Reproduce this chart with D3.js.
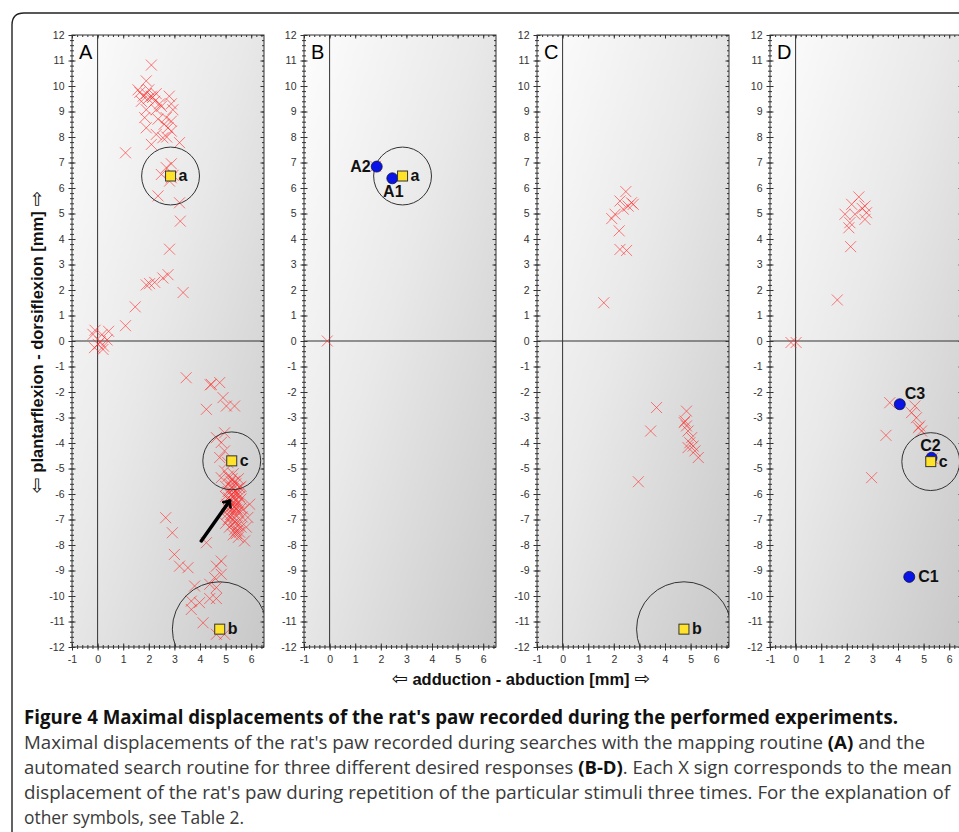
<!DOCTYPE html>
<html>
<head>
<meta charset="utf-8">
<script src="https://cdn.jsdelivr.net/npm/d3@7"></script>
<style>
  html, body { margin: 0; padding: 0; background: #fff; }
  svg { display: block; }
</style>
</head>
<body>
<svg id="chart" width="959" height="832"></svg>
<script>
// ---------------- DATA ----------------
const panelLetters = ["A", "B", "C", "D"];
const xTickLabels = [-1, 0, 1, 2, 3, 4, 5, 6];
const yTickLabels = [-12, -11, -10, -9, -8, -7, -6, -5, -4, -3, -2, -1, 0, 1, 2, 3, 4, 5, 6, 7, 8, 9, 10, 11, 12];

// X signs: [abduction, dorsiflexion] in mm
const crossesA = [
  [2.1, 10.82], [1.9, 10.2], [1.58, 9.85], [1.78, 9.6], [1.9, 9.7], [2.1, 9.6], [2.29, 9.7], [1.71, 9.4],
  [1.97, 9.5], [2.23, 9.4], [2.42, 9.3], [2.8, 9.6], [2.88, 9.3], [2.94, 9.07], [2.29, 9.07], [2.49, 9.2],
  [1.9, 9.07], [1.84, 8.76], [2.36, 8.7], [2.68, 8.76], [2.88, 8.62], [2.75, 8.36], [1.9, 8.36], [2.29, 8.1],
  [2.55, 7.97], [2.88, 8.23], [3.2, 7.78], [2.1, 7.71], [1.09, 7.38], [1.65, 9.75], [2.0, 9.85], [2.15, 9.55],
  [2.6, 8.5], [2.7, 8.0],
  [2.88, 6.95], [2.68, 6.8], [2.49, 6.53], [2.88, 6.4], [2.81, 6.27], [2.95, 6.5], [2.36, 5.69], [3.2, 5.42],
  [3.23, 4.7], [2.81, 3.6], [2.75, 2.6], [2.55, 2.47], [2.23, 2.3], [2.03, 2.25], [1.9, 2.2], [3.34, 1.9],
  [1.47, 1.34], [1.09, 0.6], [-0.1, 0.42], [0.17, 0.25], [0.43, 0.38], [0.37, 0.04], [0.1, -0.03], [0.23, -0.2],
  [-0.18, 0.26], [0.02, -0.13], [0.21, -0.33], [-0.12, -0.26],
  [3.46, -1.44], [4.44, -1.7], [4.4, -1.72], [4.77, -1.63], [4.9, -2.22], [5.35, -2.55], [5.03, -2.55], [4.25, -2.68],
  [4.64, -3.79], [4.96, -3.6], [4.83, -3.98], [4.96, -4.31], [4.77, -4.57], [5.09, -4.77], [4.96, -5.1], [4.83, -5.36],
  [5.94, -6.4], [5.87, -6.92], [5.81, -7.3], [5.74, -7.84], [5.42, -7.45], [5.55, -5.75],
  [5.1, -5.3], [5.3, -5.2], [5.5, -5.4], [5.2, -5.5], [5.4, -5.6], [5.0, -5.7], [5.3, -5.8], [5.6, -5.7],
  [5.1, -5.9], [5.25, -6.0], [5.45, -5.95], [5.0, -6.1], [5.35, -6.15], [5.55, -6.1], [5.15, -6.25], [5.3, -6.3],
  [5.5, -6.35], [5.05, -6.4], [5.2, -6.5], [5.4, -6.45], [5.6, -6.55], [5.1, -6.6], [5.3, -6.7], [5.5, -6.7],
  [5.2, -6.8], [5.4, -6.85], [5.65, -6.9], [5.1, -7.0], [5.3, -7.0], [5.5, -7.1], [5.25, -7.2], [5.45, -7.25],
  [5.35, -7.4], [5.55, -7.5], [5.3, -7.6], [5.5, -7.7], [5.2, -6.05], [5.4, -6.25], [5.25, -6.6], [5.15, -5.6],
  [5.45, -5.8], [5.05, -6.8], [5.35, -5.5], [5.6, -6.2], [5.7, -6.6], [5.15, -7.3], [5.4, -6.55], [5.3, -5.95],
  [5.0, -7.15], [5.6, -7.3], [5.22, -5.75], [5.38, -6.0], [5.28, -6.45], [5.45, -6.6], [5.18, -6.9], [5.36, -7.1],
  [5.25, -5.4], [5.5, -6.0], [5.12, -6.15], [5.42, -7.55],
  [2.66, -6.93], [2.92, -7.52], [3.0, -8.37], [3.2, -8.83], [3.53, -8.89], [4.25, -7.91], [4.83, -8.63], [4.64, -8.83],
  [4.57, -9.28], [4.83, -9.15], [3.79, -9.61], [4.38, -9.54], [4.64, -9.67], [4.38, -10.1], [4.64, -10.1], [3.66, -10.2],
  [3.98, -10.26], [3.66, -10.53], [4.12, -11.05], [4.64, -11.5], [4.96, -11.5]
];
const crossesB = [[-0.09, 0.0], [1.8, 6.85]];
const crossesC = [
  [2.47, 5.86], [2.24, 5.49], [2.69, 5.42], [2.56, 5.29], [2.76, 5.36], [2.37, 5.17], [2.05, 4.97], [1.92, 4.8],
  [2.21, 4.32], [2.24, 3.59], [2.5, 3.55], [1.61, 1.5],
  [3.67, -2.61], [4.84, -2.75], [4.78, -3.14], [4.84, -3.33], [4.9, -3.53], [5.04, -3.79], [4.97, -3.99], [5.1, -4.12],
  [4.9, -4.18], [5.17, -4.31], [5.3, -4.57], [4.75, -3.2], [3.44, -3.53], [2.96, -5.52]
];
const crossesD = [
  [2.47, 5.65], [2.19, 5.36], [1.93, 4.97], [2.32, 4.97], [2.12, 4.64], [2.08, 4.44], [2.71, 5.29], [2.77, 5.03],
  [2.71, 4.77], [2.6, 5.2], [2.15, 3.7], [1.63, 1.61], [-0.18, -0.06], [0.02, -0.06],
  [3.68, -2.42], [4.66, -2.55], [4.53, -2.81], [4.72, -3.01], [4.85, -3.33], [4.92, -3.53], [4.8, -3.4],
  [3.53, -3.7], [2.97, -5.36], [5.35, -4.6]
];

// Desired responses (yellow squares) with their tolerance circle radius in mm
const targetsA = [
  { label: "a", x: 2.85, y: 6.47, r: 1.13 },
  { label: "c", x: 5.24, y: -4.7, r: 1.13 },
  { label: "b", x: 4.77, y: -11.3, r: 1.85 }
];
const targetsB = [{ label: "a", x: 2.85, y: 6.47, r: 1.13 }];
const targetsC = [{ label: "b", x: 4.74, y: -11.3, r: 1.85 }];
const targetsD = [{ label: "c", x: 5.28, y: -4.73, r: 1.13 }];

// Found responses (blue dots)
const foundB = [{ label: "A2", x: 1.84, y: 6.84 }, { label: "A1", x: 2.45, y: 6.38 }];
const foundD = [{ label: "C3", x: 4.07, y: -2.48 }, { label: "C2", x: 5.31, y: -4.58 }, { label: "C1", x: 4.44, y: -9.25 }];

// Arrow in panel A: [from, to]
const arrowA = [[4.05, -7.84], [5.16, -6.27]];

const panels = [
  { crosses: crossesA, targets: targetsA, found: [], arrow: arrowA },
  { crosses: crossesB, targets: targetsB, found: foundB, arrow: null },
  { crosses: crossesC, targets: targetsC, found: [], arrow: null },
  { crosses: crossesD, targets: targetsD, found: foundD, arrow: null }
];

// label placement (style) for found dots
const foundLabelStyle = {
  A2: { dx: -6, dy: 5, anchor: "end" },
  A1: { dx: 1, dy: 19, anchor: "middle" },
  C3: { dx: 5, dy: -5, anchor: "start" },
  C2: { dx: -1, dy: -7, anchor: "middle" },
  C1: { dx: 9, dy: 5, anchor: "start" }
};

// ---------------- DRAW ----------------
const svg = d3.select("#chart");
const W = 959, H = 832;
const fontAx = "'Liberation Sans', Arial, sans-serif";

svg.append("path")
  .attr("d", `M12,${H + 5} L12,25 Q12,13 24,13 L${W + 5},13`)
  .attr("fill", "none").attr("stroke", "#222").attr("stroke-width", 1.4);

const defs = svg.append("defs");
const grad = defs.append("linearGradient").attr("id", "bg")
  .attr("x1", "0").attr("y1", "0").attr("x2", "1").attr("y2", "1");
grad.append("stop").attr("offset", "0%").attr("stop-color", "#fdfdfd");
grad.append("stop").attr("offset", "45%").attr("stop-color", "#e9e9e9");
grad.append("stop").attr("offset", "100%").attr("stop-color", "#c8c8c8");

const mk = defs.append("marker").attr("id", "arrowHead")
  .attr("viewBox", "-6 -6 12 12").attr("refX", 0).attr("refY", 0)
  .attr("markerWidth", 12).attr("markerHeight", 12).attr("markerUnits", "userSpaceOnUse")
  .attr("orient", "auto");
mk.append("path").attr("d", "M-5,-4.5 L0,0 L-5,4.5").attr("fill", "none")
  .attr("stroke", "#000").attr("stroke-width", 2.6).attr("stroke-linecap", "round").attr("stroke-linejoin", "round");

const panelLeft = [72, 304, 537, 770];
const plotTop = 35, plotBottom = 647, pw = 192;
const minorVals = d3.range(-12, 12.001, 0.2).map(v => +v.toFixed(2));
const minorX = d3.range(-1, 6.501, 0.2).map(v => +v.toFixed(2));
const fmt = d => String(d);

panels.forEach((p, i) => {
  const x0 = panelLeft[i];
  const x = d3.scaleLinear().domain([-1, 6.5]).range([x0, x0 + pw]);
  const y = d3.scaleLinear().domain([-12, 12]).range([plotBottom, plotTop]);
  const g = svg.append("g");

  const clipId = "clip" + i;
  defs.append("clipPath").attr("id", clipId).append("rect")
    .attr("x", x0).attr("y", plotTop).attr("width", pw).attr("height", plotBottom - plotTop);

  g.append("rect").attr("x", x0).attr("y", plotTop).attr("width", pw).attr("height", plotBottom - plotTop)
    .attr("fill", "url(#bg)");

  g.append("line").attr("x1", x(0)).attr("x2", x(0)).attr("y1", plotTop).attr("y2", plotBottom)
    .attr("stroke", "#333").attr("stroke-width", 1);
  g.append("line").attr("x1", x0).attr("x2", x0 + pw).attr("y1", y(0)).attr("y2", y(0))
    .attr("stroke", "#333").attr("stroke-width", 1);

  const styleAxis = sel => {
    sel.selectAll("path").remove();
    sel.selectAll("line").attr("stroke", "#333");
    sel.selectAll("text").attr("font-family", fontAx).attr("font-size", 10.5).attr("fill", "#333");
  };
  g.append("g").attr("transform", `translate(${x0},0)`)
    .call(d3.axisLeft(y).tickValues(yTickLabels).tickSize(3.5).tickPadding(4).tickFormat(fmt))
    .call(styleAxis);
  g.append("g").attr("transform", `translate(${x0},0)`)
    .call(d3.axisRight(y).tickValues(yTickLabels).tickSize(3.5).tickFormat(""))
    .call(styleAxis);
  g.append("g").attr("transform", `translate(${x0},0)`)
    .call(d3.axisLeft(y).tickValues(minorVals).tickSize(2).tickFormat(""))
    .call(styleAxis);
  g.append("g").attr("transform", `translate(${x0},0)`)
    .call(d3.axisRight(y).tickValues(minorVals).tickSize(2).tickFormat(""))
    .call(styleAxis);
  g.append("g").attr("transform", `translate(${x0 + pw},0)`)
    .call(d3.axisLeft(y).tickValues(yTickLabels).tickSize(3.5).tickFormat(""))
    .call(styleAxis);
  g.append("g").attr("transform", `translate(${x0 + pw},0)`)
    .call(d3.axisLeft(y).tickValues(minorVals).tickSize(2).tickFormat(""))
    .call(styleAxis);
  g.append("g").attr("transform", `translate(0,${plotBottom})`)
    .call(d3.axisBottom(x).tickValues(xTickLabels).tickSize(3.5).tickPadding(5).tickFormat(fmt))
    .call(styleAxis);
  g.append("g").attr("transform", `translate(0,${plotBottom})`)
    .call(d3.axisTop(x).tickValues(xTickLabels).tickSize(3.5).tickFormat(""))
    .call(styleAxis);
  g.append("g").attr("transform", `translate(0,${plotBottom})`)
    .call(d3.axisBottom(x).tickValues(minorX).tickSize(2).tickFormat(""))
    .call(styleAxis);
  g.append("g").attr("transform", `translate(0,${plotBottom})`)
    .call(d3.axisTop(x).tickValues(minorX).tickSize(2).tickFormat(""))
    .call(styleAxis);
  g.append("g").attr("transform", `translate(0,${plotTop})`)
    .call(d3.axisBottom(x).tickValues(xTickLabels).tickSize(3.5).tickFormat(""))
    .call(styleAxis);
  g.append("g").attr("transform", `translate(0,${plotTop})`)
    .call(d3.axisBottom(x).tickValues(minorX).tickSize(2).tickFormat(""))
    .call(styleAxis);

  g.append("rect").attr("x", x0).attr("y", plotTop).attr("width", pw).attr("height", plotBottom - plotTop)
    .attr("fill", "none").attr("stroke", "#333").attr("stroke-width", 1);

  const plot = g.append("g").attr("clip-path", `url(#${clipId})`);

  const s = 5.5;
  plot.selectAll("path.cross").data(p.crosses).join("path").attr("class", "cross")
    .attr("d", d => {
      const cx = x(d[0]), cy = y(d[1]);
      return `M${cx - s},${cy - s}L${cx + s},${cy + s}M${cx - s},${cy + s}L${cx + s},${cy - s}`;
    })
    .attr("stroke", "#ff2a2a").attr("stroke-opacity", 0.62).attr("stroke-width", 1).attr("fill", "none");

  const unit = x(1) - x(0);
  plot.selectAll("circle.tol").data(p.targets).join("circle").attr("class", "tol")
    .attr("cx", d => x(d.x)).attr("cy", d => y(d.y)).attr("r", d => d.r * unit)
    .attr("fill", "none").attr("stroke", "#333").attr("stroke-width", 1);

  plot.selectAll("circle.found").data(p.found).join("circle").attr("class", "found")
    .attr("cx", d => x(d.x)).attr("cy", d => y(d.y)).attr("r", 5.5)
    .attr("fill", "#0a14e6").attr("stroke", "#101040").attr("stroke-width", 0.8);

  plot.selectAll("rect.tg").data(p.targets).join("rect").attr("class", "tg")
    .attr("x", d => x(d.x) - 5).attr("y", d => y(d.y) - 5).attr("width", 10).attr("height", 10)
    .attr("fill", "#ffe22a").attr("stroke", "#333").attr("stroke-width", 1);

  plot.selectAll("text.tg").data(p.targets).join("text").attr("class", "tg")
    .attr("x", d => x(d.x) + 8).attr("y", d => y(d.y) + 5)
    .attr("font-family", fontAx).attr("font-weight", "bold").attr("font-size", 16).attr("fill", "#111")
    .text(d => d.label);

  g.selectAll("text.found").data(p.found).join("text").attr("class", "found")
    .attr("x", d => x(d.x) + foundLabelStyle[d.label].dx)
    .attr("y", d => y(d.y) + foundLabelStyle[d.label].dy)
    .attr("text-anchor", d => foundLabelStyle[d.label].anchor)
    .attr("font-family", fontAx).attr("font-weight", "bold").attr("font-size", 16).attr("fill", "#111")
    .text(d => d.label);

  if (p.arrow) {
    plot.append("line")
      .attr("x1", x(p.arrow[0][0])).attr("y1", y(p.arrow[0][1]))
      .attr("x2", x(p.arrow[1][0])).attr("y2", y(p.arrow[1][1]))
      .attr("stroke", "#000").attr("stroke-width", 3.5).attr("stroke-linecap", "round")
      .attr("marker-end", "url(#arrowHead)");
  }

  g.append("text").attr("x", x0 + 7).attr("y", plotTop + 24)
    .attr("font-family", fontAx).attr("font-size", 20).attr("fill", "#000")
    .text(panelLetters[i]);
});

// axis titles with outline arrows
function axisTitle(sel, label) {
  sel.attr("font-family", fontAx).attr("font-weight", "bold").attr("font-size", 16.5).attr("fill", "#111")
    .attr("text-anchor", "middle");
  sel.append("tspan").attr("font-family", "'DejaVu Sans', sans-serif").attr("font-weight", "normal")
    .attr("font-size", 19).text("\u21E6");
  sel.append("tspan").text(" " + label + " ");
  sel.append("tspan").attr("font-family", "'DejaVu Sans', sans-serif").attr("font-weight", "normal")
    .attr("font-size", 19).text("\u21E8");
}
svg.append("text").attr("x", 521).attr("y", 685).call(axisTitle, "adduction - abduction [mm]");
svg.append("text").attr("transform", "translate(43,342) rotate(-90)").call(axisTitle, "plantarflexion - dorsiflexion [mm]");

const capFont = "'Open Sans', sans-serif";
svg.append("text").attr("x", 24).attr("y", 724)
  .attr("font-family", capFont).attr("font-weight", "bold").attr("font-size", 20).attr("fill", "#111")
  .attr("textLength", 874).attr("lengthAdjust", "spacingAndGlyphs")
  .text("Figure 4 Maximal displacements of the rat's paw recorded during the performed experiments.");

const capLines = [
  { y: 749, w: 901, parts: [["Maximal displacements of the rat's paw recorded during searches with the mapping routine ", false], ["(A)", true], [" and the", false]] },
  { y: 774, w: 928, parts: [["automated search routine for three different desired responses ", false], ["(B-D)", true], [". Each X sign corresponds to the mean", false]] },
  { y: 799, w: 926, parts: [["displacement of the rat's paw during repetition of the particular stimuli three times. For the explanation of", false]] },
  { y: 824, w: 220, parts: [["other symbols, see Table 2.", false]] }
];
capLines.forEach(l => {
  const t = svg.append("text").attr("x", 24).attr("y", l.y)
    .attr("font-family", capFont).attr("font-size", 18).attr("fill", "#3a3a3a")
    .attr("textLength", l.w).attr("lengthAdjust", "spacingAndGlyphs");
  l.parts.forEach(pt => {
    t.append("tspan").attr("font-weight", pt[1] ? "bold" : "normal").attr("fill", pt[1] ? "#111" : "#3a3a3a").text(pt[0]);
  });
});
</script>
</body>
</html>
